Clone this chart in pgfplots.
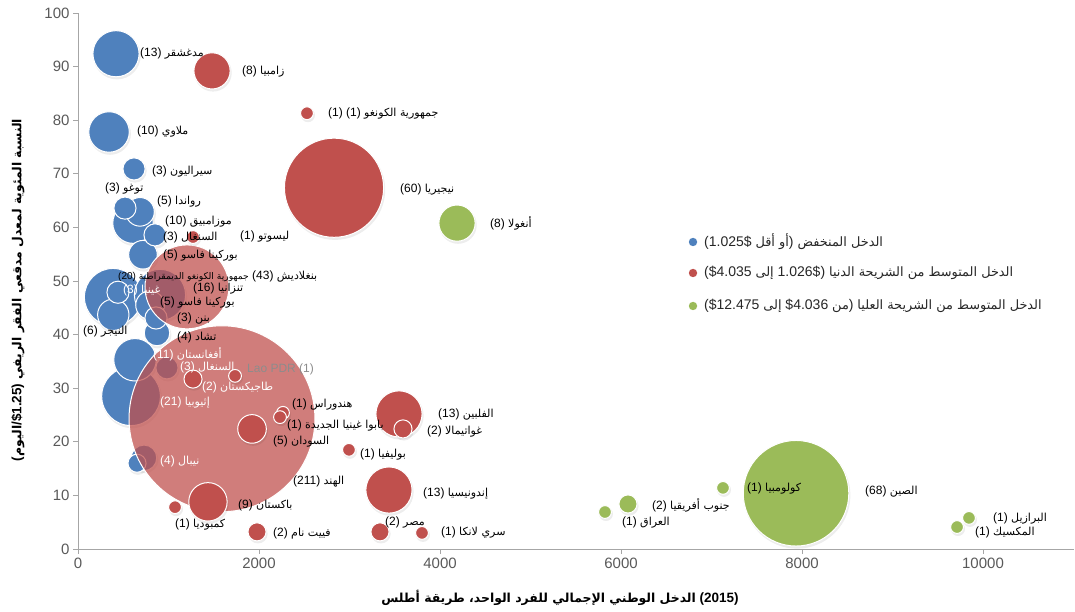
\documentclass[border=0pt]{standalone}
\usepackage{fontspec}
\usepackage{pgfplots}
\usepackage{pgfplotstable}
\pgfplotsset{compat=1.18}
\setmainfont{Liberation Sans}
\newfontfamily\A[Script=Arabic,Scale=0.92]{DejaVu Sans}
\TeXXeTstate=1
\definecolor{cblue}{HTML}{4F81BD}
\definecolor{cred}{HTML}{C0504D}
\definecolor{cgreen}{HTML}{9BBB59}
\definecolor{tickgray}{HTML}{595959}
\definecolor{axgray}{HTML}{A6A6A6}

% low income (blue), larger first
\pgfplotstableread[row sep=\\]{
x y n\\
586 28.5 21\\
387 47.0 20\\
906 47.4 16\\
420 92.4 13\\
630 35.3 11\\
343 77.8 10\\
608 60.8 10\\
390 43.7 6\\
685 62.9 5\\
718 54.9 5\\
796 45.5 5\\
873 40.3 4\\
729 17.0 4\\
619 70.9 3\\
519 63.6 3\\
851 58.6 3\\
442 47.9 3\\
862 43.1 3\\
983 33.8 3\\
652 16.0 2\\
}\lowinc
% lower middle income, transparent large ones
\pgfplotstableread[row sep=\\]{
x y n\\
1591 24.3 211\\
1204 48.9 43\\
}\lmbig
% lower middle income, others
\pgfplotstableread[row sep=\\]{
x y n\\
2829 67.4 60\\
3547 25.2 13\\
3436 11.0 13\\
1436 8.8 9\\
1481 89.2 8\\
1923 22.4 5\\
1271 31.7 2\\
3591 22.4 2\\
1978 3.2 2\\
3337 3.2 2\\
2530 81.3 1\\
1271 58.2 1\\
1735 32.3 1\\
2265 25.4 1\\
2232 24.6 1\\
2994 18.5 1\\
1072 7.8 1\\
3801 3.0 1\\
}\lowmid
% upper middle income (green)
\pgfplotstableread[row sep=\\]{
x y n\\
7934 10.4 68\\
4188 60.8 8\\
6077 8.4 2\\
5823 6.9 1\\
7127 11.4 1\\
9845 5.8 1\\
9713 4.1 1\\
}\upmid

\pgfplotsset{
 bubble/.style={scatter, only marks, mark=*, line width=1pt,
  scatter/use mapped color={draw=white, fill=#1},
  visualization depends on={6.4*sqrt(\thisrow{n}) \as \rad},
  scatter/@pre marker code/.append style={/tikz/mark size=\rad}},
 shadow/.style={scatter, only marks, mark=*,
  scatter/use mapped color={draw=none, fill=black}, fill opacity=0.07, draw opacity=0,
  visualization depends on={6.4*sqrt(\thisrow{n})+0.6 \as \rad},
  scatter/@pre marker code/.append style={/tikz/mark size=\rad, /tikz/xshift=1pt, /tikz/yshift=-2pt}},
}

\newcommand\lblfont{\fontsize{12}{14}\selectfont}
\newcommand\lab[3][black]{\node[anchor=west, inner sep=0pt, font=\lblfont, text=#1] at (#2) {#3};}

\begin{document}
\begin{tikzpicture}
\useasboundingbox (0,0) rectangle (1075pt,612pt);
\begin{axis}[
  at={(78pt,63pt)}, anchor=south west, scale only axis,
  width=995.5pt, height=536pt,
  xmin=0, xmax=11000, ymin=0, ymax=100,
  axis lines=left, axis line style={-, draw=axgray, line width=0.9pt},
  xtick={0,2000,4000,6000,8000,10000}, ytick={0,10,...,100},
  scaled ticks=false,
  tick style={draw=axgray, line width=0.9pt}, major tick length=5pt, tick align=outside,
  tick label style={font=\fontsize{15}{17}\selectfont, text=tickgray},
  /pgf/number format/assume math mode=true,
  /pgf/number format/set thousands separator={},
  clip=false,
]
\addplot[shadow] table[x=x,y=y] {\lowinc};
\addplot[bubble=cblue] table[x=x,y=y] {\lowinc};
\addplot[bubble=cred, fill opacity=0.74] table[x=x,y=y] {\lmbig};
\addplot[shadow] table[x=x,y=y] {\lowmid};
\addplot[bubble=cred] table[x=x,y=y] {\lowmid};
\addplot[shadow] table[x=x,y=y] {\upmid};
\addplot[bubble=cgreen] table[x=x,y=y] {\upmid};
\end{axis}

% axis titles
\node[rotate=90, font=\bfseries\fontsize{13.5}{15}\selectfont] at (18pt,322pt)
  {({\A\beginR اليوم\endR}/\$1.25) {\A\beginR النسبة المئوية لمعدل مدقعي الفقر الريفي\endR}};
\node[font=\bfseries\fontsize{13.5}{15}\selectfont] at (560pt,14pt)
  {{\A\beginR الدخل الوطني الإجمالي للفرد الواحد، طريقة أطلس\endR} (2015)};

% legend
\begin{scope}[x=1pt, y=-1pt, shift={(0,612pt)}]
\fill[cblue] (693,242) circle (4.2);
\fill[cred] (693,273) circle (4.2);
\fill[cgreen] (693,306) circle (4.2);
\begin{scope}[every node/.style={anchor=west, inner sep=0pt, font=\fontsize{14}{16}\selectfont, text=black!85}]
\node at (704,242) {(1.025\$ {\A\beginR أو أقل\endR}) {\A\beginR الدخل المنخفض\endR}};
\node at (704,273) {(\$4.035 {\A\beginR إلى\endR} 1.026\$) {\A\beginR الدخل المتوسط من الشريحة الدنيا\endR}};
\node at (704,306) {(\$12.475 {\A\beginR إلى\endR} \$4.036 {\A\beginR من\endR}) {\A\beginR الدخل المتوسط من الشريحة العليا\endR}};
\end{scope}

% data labels
\lab{140,54}{(13) {\A\beginR مدغشقر\endR}}
\lab{242,72}{(8) {\A\beginR زامبيا\endR}}
\lab{328,114}{(1) (1) {\A\beginR جمهورية الكونغو\endR}}
\lab{137,132}{(10) {\A\beginR ملاوي\endR}}
\lab{152,172}{(3) {\A\beginR سيراليون\endR}}
\lab{105,189}{(3) {\A\beginR توغو\endR}}
\lab{157,202}{(5) {\A\beginR رواندا\endR}}
\lab{165,222}{(10) {\A\beginR موزامبيق\endR}}
\lab{163,237}{(3) {\A\beginR السنغال\endR}}
\lab{240,237}{(1) {\A\beginR ليسوتو\endR}}
\lab{400,190}{(60) {\A\beginR نيجيريا\endR}}
\lab{490,223}{(8) {\A\beginR أنغولا\endR}}
\lab{163,256}{(5) {\A\beginR بوركينا فاسو\endR}}
\node[anchor=west, inner sep=0pt, font=\fontsize{10}{12}\selectfont] at (118,277) {(20) {\A\beginR جمهورية الكونغو الديمقراطية\endR}};
\lab{252,277}{(43) {\A\beginR بنغلاديش\endR}}
\lab[white]{123,290}{(3) {\A\beginR غينيا\endR}}
\lab{193,289}{(16) {\A\beginR تنزانيا\endR}}
\lab{160,303}{(5) {\A\beginR بوركينا فاسو\endR}}
\lab{177,319}{(3) {\A\beginR بنن\endR}}
\lab{83,332}{(6) {\A\beginR النيجر\endR}}
\lab{177,337}{(4) {\A\beginR تشاد\endR}}
\lab[white]{153,354}{(11) {\A\beginR أفغانستان\endR}}
\lab[white]{180,367}{(3) {\A\beginR السنغال\endR}}
\lab[black!45]{247,369}{Lao PDR (1)}
\lab[white]{202,387}{(2) {\A\beginR طاجيكستان\endR}}
\lab[white]{160,403}{(21) {\A\beginR إثيوبيا\endR}}
\lab{292,405}{(1) {\A\beginR هندوراس\endR}}
\lab{287,426}{(1) {\A\beginR بابوا غينيا الجديدة\endR}}
\lab{273,442}{(5) {\A\beginR السودان\endR}}
\lab{360,455}{(1) {\A\beginR بوليفيا\endR}}
\lab[white]{160,461}{(4) {\A\beginR نيبال\endR}}
\lab{438,415}{(13) {\A\beginR الفلبين\endR}}
\lab{427,432}{(2) {\A\beginR غواتيمالا\endR}}
\lab{293,482}{(211) {\A\beginR الهند\endR}}
\lab{423,494}{(13) {\A\beginR إندونيسيا\endR}}
\lab{238,505}{(9) {\A\beginR باكستان\endR}}
\lab{175,525}{(1) {\A\beginR كمبوديا\endR}}
\lab{385,523}{(2) {\A\beginR مصر\endR}}
\lab{273,533}{(2) {\A\beginR فييت نام\endR}}
\lab{441,533}{(1) {\A\beginR سري لانكا\endR}}
\lab{622,523}{(1) {\A\beginR العراق\endR}}
\lab{652,505}{(2) {\A\beginR جنوب أفريقيا\endR}}
\lab{747,489}{(1) {\A\beginR كولومبيا\endR}}
\lab{865,492}{(68) {\A\beginR الصين\endR}}
\lab{993,519}{(1) {\A\beginR البرازيل\endR}}
\lab{975,532}{(1) {\A\beginR المكسيك\endR}}
\end{scope}
\end{tikzpicture}
\end{document}
